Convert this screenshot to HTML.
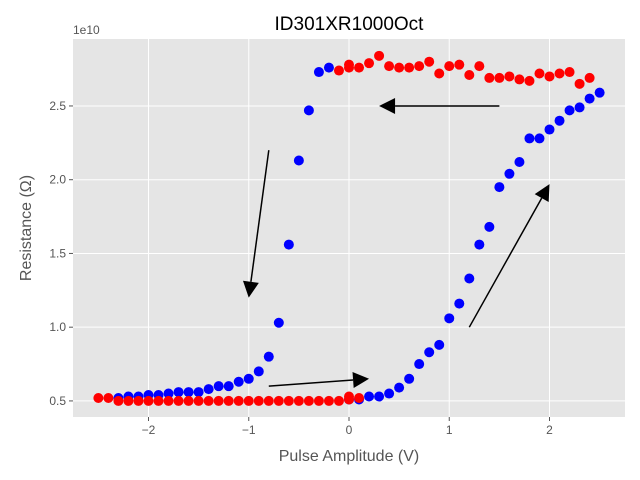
<!DOCTYPE html>
<html><head><meta charset="utf-8"><style>body{margin:0;background:#fff}svg{display:block;font-family:"Liberation Sans","DejaVu Sans",sans-serif}</style></head>
<body>
<svg id="chart" width="640" height="480"></svg>
<script>
const blueX = [-2.3,-2.2,-2.1,-2.0,-1.9,-1.8,-1.7,-1.6,-1.5,-1.4,-1.3,-1.2,-1.1,-1.0,-0.9,-0.8,-0.7,-0.6,-0.5,-0.4,-0.3,-0.2,0.0,0.1,0.2,0.3,0.4,0.5,0.6,0.7,0.8,0.9,1.0,1.1,1.2,1.3,1.4,1.5,1.6,1.7,1.8,1.9,2.0,2.1,2.2,2.3,2.4,2.5];
const blueY = [0.52,0.53,0.53,0.54,0.54,0.55,0.56,0.56,0.56,0.58,0.60,0.60,0.63,0.65,0.70,0.80,1.03,1.56,2.13,2.47,2.73,2.76,0.51,0.51,0.53,0.53,0.55,0.59,0.65,0.75,0.83,0.88,1.06,1.16,1.33,1.56,1.68,1.95,2.04,2.12,2.28,2.28,2.34,2.40,2.47,2.49,2.55,2.59];
const redLowX = [-2.5,-2.4,-2.3,-2.2,-2.1,-2.0,-1.9,-1.8,-1.7,-1.6,-1.5,-1.4,-1.3,-1.2,-1.1,-1.0,-0.9,-0.8,-0.7,-0.6,-0.5,-0.4,-0.3,-0.2,-0.1,0.0,0.0,0.1];
const redLowY = [0.52,0.52,0.50,0.50,0.50,0.50,0.50,0.50,0.50,0.50,0.50,0.50,0.50,0.50,0.50,0.50,0.50,0.50,0.50,0.50,0.50,0.50,0.50,0.50,0.50,0.51,0.53,0.52];
const redHighX = [-0.1,0.0,0.0,0.1,0.2,0.3,0.4,0.5,0.6,0.7,0.8,0.9,1.0,1.1,1.2,1.3,1.4,1.5,1.6,1.7,1.8,1.9,2.0,2.1,2.2,2.3,2.4];
const redHighY = [2.74,2.78,2.76,2.76,2.79,2.84,2.77,2.76,2.76,2.77,2.80,2.72,2.77,2.78,2.71,2.77,2.69,2.69,2.70,2.68,2.67,2.72,2.70,2.72,2.73,2.65,2.69];
const xTicks = [-2,-1,0,1,2];
const yTicks = [0.5,1.0,1.5,2.0,2.5];
const yTickLabels = ["0.5","1.0","1.5","2.0","2.5"];
const arrowsData = [[1.5,2.5,0.3,2.5],[-0.8,2.2,-1.0,1.2],[-0.8,0.6,0.2,0.65],[1.2,1.0,2.0,1.97]];

const L=73,R=625,T=39,B=417;
const xMin=-2.753,xMax=2.753,yMin=0.391,yMax=2.954;
const sx=v=>L+(v-xMin)/(xMax-xMin)*(R-L);
const sy=v=>B-(v-yMin)/(yMax-yMin)*(B-T);
const svg=document.getElementById('chart');
const NS='http://www.w3.org/2000/svg';
function mk(tag,attrs,parent){const e=document.createElementNS(NS,tag);for(const k in attrs)e.setAttribute(k,attrs[k]);(parent||svg).appendChild(e);return e;}

const bg=mk('rect',{x:L,y:T,width:R-L,height:B-T,fill:'#e5e5e5'});



xTicks.forEach(t=>{
  const g=mk('line',{x1:sx(t),x2:sx(t),y1:T,y2:B,stroke:'#fff','stroke-width':1});
  
  
  mk('line',{x1:sx(t),x2:sx(t),y1:B,y2:B+4,stroke:'#555'});
  const lb=mk('text',{x:sx(t),y:B+17,'text-anchor':'middle','font-size':12,fill:'#555'});
  lb.textContent=t<0?'\u2212'+Math.abs(t):String(t);
  
  
});
yTicks.forEach((t,i)=>{
  const g=mk('line',{x1:L,x2:R,y1:sy(t),y2:sy(t),stroke:'#fff','stroke-width':1});
  
  
  mk('line',{x1:L-4,x2:L,y1:sy(t),y2:sy(t),stroke:'#555'});
  const lb=mk('text',{x:L-7,y:sy(t)+4,'text-anchor':'end','font-size':12,fill:'#555'});
  lb.textContent=yTickLabels[i];
  
  
});

function pts(xs,ys,color,name){
  xs.forEach((x,i)=>{
    const c=mk('circle',{cx:sx(x),cy:sy(ys[i]),r:5,fill:color});
    
    
  });
}
pts(blueX,blueY,'#0000ff','blue-point');
pts(redLowX,redLowY,'#ff0000','red-point');
pts(redHighX,redHighY,'#ff0000','red-point');

arrowsData.forEach(a=>{
  const x1=sx(a[0]),y1=sy(a[1]),x2=sx(a[2]),y2=sy(a[3]);
  const dx=x2-x1,dy=y2-y1,len=Math.hypot(dx,dy),ux=dx/len,uy=dy/len;
  const hl=16,hw=8;
  const bx=x2-ux*hl,by=y2-uy*hl;
  const ln=mk('line',{x1:x1,y1:y1,x2:bx,y2:by,stroke:'#000','stroke-width':1.5});
  
  
  const p=mk('polygon',{points:`${x2},${y2} ${bx-uy*hw},${by+ux*hw} ${bx+uy*hw},${by-ux*hw}`,fill:'#000'});
  
  
});

const title=mk('text',{x:349,y:30,'text-anchor':'middle','font-size':19,fill:'#000'});
title.textContent='ID301XR1000Oct';


const off=mk('text',{x:73,y:34,'font-size':12,fill:'#555'});
off.textContent='1e10';


const xt=mk('text',{x:349,y:461,'text-anchor':'middle','font-size':16,fill:'#555'});
xt.textContent='Pulse Amplitude (V)';


const yt=mk('text',{x:0,y:0,'text-anchor':'middle','font-size':16,fill:'#555',transform:'translate(31,228) rotate(-90)'});
yt.textContent='Resistance (\u03A9)';


</script>
</body></html>
